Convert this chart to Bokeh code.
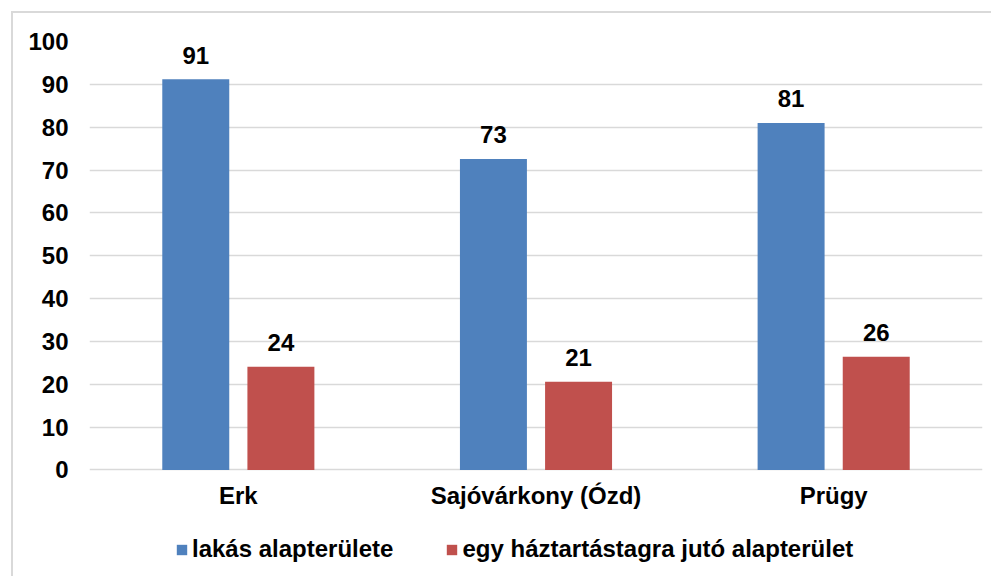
from bokeh.plotting import figure
from bokeh.models import ColumnDataSource, FactorRange, Range1d, FixedTicker, Legend, LegendItem
from bokeh.transform import dodge
from bokeh.core.properties import value
from bokeh.embed import file_html
from bokeh.resources import INLINE

categories = ["Erk", "Sajóvárkony (Ózd)", "Prügy"]
lakas = [91.2, 72.6, 81.0]
haztartas = [24.1, 20.6, 26.4]
series_names = ["lakás alapterülete", "egy háztartástagra jutó alapterület"]
y_ticks = [0, 10, 20, 30, 40, 50, 60, 70, 80, 90, 100]

BLUE = "#4F81BD"
RED = "#C0504D"
FONT = "Liberation Sans"
FS = "24px"

src = ColumnDataSource(dict(
    cat=categories,
    lakas=lakas,
    haz=haztartas,
    lakas_lbl=[f"{round(v)}" for v in lakas],
    haz_lbl=[f"{round(v)}" for v in haztartas],
))

p = figure(
    x_range=FactorRange(*categories),
    y_range=Range1d(-24.4, 100),
    width=980, height=565,
    output_backend="svg", toolbar_location=None,
    min_border_left=76, min_border_right=11, min_border_top=28, min_border_bottom=4,
    styles={"border-left": "2px solid #d9d9d9", "border-top": "2px solid #d9d9d9",
            "transform": "translate(11px, 11px)"},
)
p.outline_line_color = None
p.background_fill_color = "white"
p.border_fill_color = "white"

r1 = p.vbar(x=dodge("cat", -0.143, range=p.x_range), top="lakas", width=0.225,
            source=src, fill_color=BLUE, line_color=None)
r2 = p.vbar(x=dodge("cat", 0.143, range=p.x_range), top="haz", width=0.225,
            source=src, fill_color=RED, line_color=None)

for col, lbl, off in (("lakas", "lakas_lbl", -0.143), ("haz", "haz_lbl", 0.143)):
    p.text(x=dodge("cat", off, range=p.x_range), y=col, text=lbl, source=src,
           text_align="center", text_baseline="middle", y_offset=-24,
           text_font=value(FONT), text_font_style="bold", text_font_size=FS,
           text_color="black")

p.xgrid.grid_line_color = None
p.ygrid.grid_line_color = "#d9d9d9"
p.ygrid.grid_line_width = 1.5
p.yaxis.ticker = FixedTicker(ticks=y_ticks)
p.xaxis.fixed_location = 0

for ax in (p.xaxis, p.yaxis):
    ax.axis_line_color = None
    ax.major_tick_line_color = None
    ax.minor_tick_line_color = None
    ax.major_label_text_font = FONT
    ax.major_label_text_font_style = "bold"
    ax.major_label_text_font_size = FS
    ax.major_label_text_color = "black"
p.yaxis.major_label_standoff = 15
p.xaxis.major_label_standoff = 6

legend = Legend(items=[LegendItem(label=series_names[0], renderers=[r1]),
                       LegendItem(label=series_names[1], renderers=[r2])],
                orientation="horizontal", location=(86, 11))
legend.padding = 0
legend.margin = 0
legend.border_line_color = None
legend.background_fill_alpha = 0
legend.glyph_width = 13
legend.glyph_height = 13
legend.label_standoff = 4
legend.spacing = 52
legend.label_text_font = FONT
legend.label_text_font_style = "bold"
legend.label_text_font_size = FS
legend.label_text_color = "black"
p.add_layout(legend)

open("out.html", "w").write(file_html(p, INLINE))
